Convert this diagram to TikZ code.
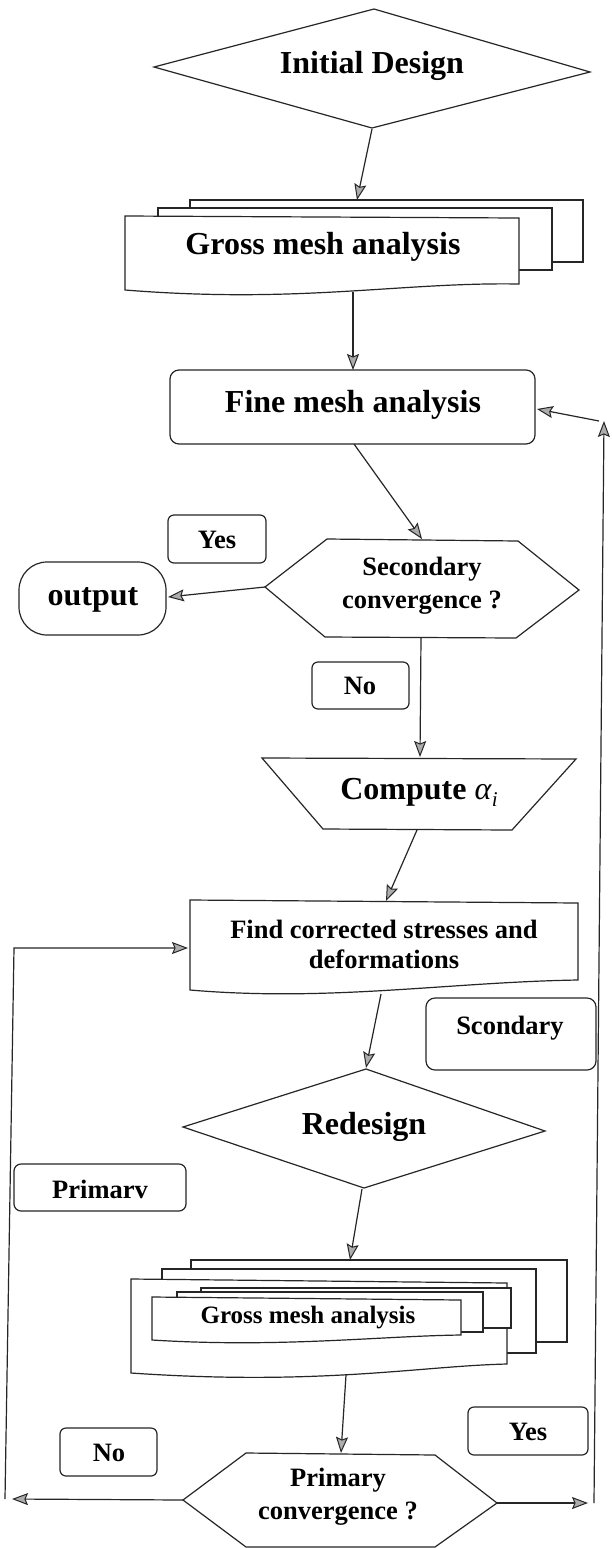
\documentclass[tikz,border=0pt]{standalone}
\usepackage{fontspec}
\setmainfont{Liberation Serif}
\usetikzlibrary{arrows.meta}
\tikzset{
  ln/.style={draw=black!85, line width=1.2pt},
  arr/.style={ln, -{Stealth[length=16pt,width=12pt,inset=2.5pt,fill=gray!65,line width=1pt]}},
  shp/.style={ln, fill=white, line join=miter},
  big/.style={font=\fontsize{32}{34}\selectfont\bfseries, align=center, inner sep=0pt},
  mid/.style={font=\fontsize{26.5}{33}\selectfont\bfseries, align=center, inner sep=0pt},
  sml/.style={font=\fontsize{25}{30}\selectfont\bfseries, align=center, inner sep=0pt},
}
\begin{document}
\begin{tikzpicture}[x=1pt,y=-1pt]
\useasboundingbox (0,0) rectangle (611,1548);
\fill[white] (0,0) rectangle (611,1548);

% ---------- Initial Design ----------
\draw[shp] (154,67) -- (374,9) -- (590,72) -- (372,128) -- cycle;
\node[big] (init) at (372,66) {Initial Design};
\coordinate (init-s) at (372,129);

% ---------- Gross mesh analysis (top) ----------
\draw[shp] (190,200) rectangle (583,262);
\draw[shp] (158,208) rectangle (552,270);
\draw[shp] (125,216) -- (519,218) -- (519,284)
   .. controls (400,282) and (300,304) .. (125,290) -- cycle;
\node[big] (gross1) at (323,247) {Gross mesh analysis};
\coordinate (gross1-n) at (357,200);
\coordinate (gross1-s) at (353,292);

% ---------- Fine mesh analysis ----------
\draw[shp, rounded corners=9pt] (170,370) rectangle (535,444);
\node[big] (fine) at (353,405) {Fine mesh analysis};
\coordinate (fine-n) at (353,370);
\coordinate (fine-s) at (354,444);
\coordinate (fine-e) at (537,409);

% ---------- Secondary convergence ----------
\draw[shp] (265,587) -- (327,539) -- (518,541) -- (579,590) -- (516,638) -- (325,637) -- cycle;
\node[mid] (sec) at (422,586) {Secondary\\convergence ?};
\coordinate (sec-n) at (422,539);
\coordinate (sec-w) at (265,587);
\coordinate (sec-s) at (421,638);

\draw[shp, rounded corners=6pt] (168,515) rectangle (266,563);
\node[mid] (yes1) at (217,540) {Yes};

\draw[shp, rounded corners=28pt] (19,562) rectangle (166,635);
\node[big] (out) at (93,600) {output};
\coordinate (out-e) at (168,597);

\draw[shp, rounded corners=6pt] (312,662) rectangle (409,709);
\node[mid] (no1) at (360,686) {No};

% ---------- Compute alpha ----------
\draw[shp] (262,758) -- (576,759) -- (512,830) -- (323,829) -- cycle;
\node[big] (comp) at (419,792) {Compute \textmd{\textit{α}\raisebox{-0.22em}{\fontsize{21}{21}\selectfont\textit{i}}}};
\coordinate (comp-n) at (420,757);
\coordinate (comp-s) at (417,830);

% ---------- Find corrected ----------
\draw[shp] (190,900) -- (578,903) -- (578,980)
   .. controls (450,982) and (330,1002) .. (190,990) -- cycle;
\node[mid, font=\fontsize{26.5}{30}\selectfont\bfseries] (find) at (384,944) {Find corrected stresses and\\deformations};
\coordinate (find-n) at (386,901);
\coordinate (find-w) at (188,948);
\coordinate (find-s) at (381,994);

\draw[shp, rounded corners=9pt] (426,998) rectangle (596,1070);
\node[mid] (scon) at (510,1028) {Scondary};

% ---------- Redesign ----------
\draw[shp] (366,1069) -- (545,1131) -- (364,1188) -- (183,1127) -- cycle;
\node[big] (red) at (364,1127) {Redesign};
\coordinate (red-n) at (366,1068);
\coordinate (red-s) at (362,1189);

\draw[shp, rounded corners=7pt] (14,1164) rectangle (186,1211);
\node[mid] (prim) at (100,1189) {Primarv};

% ---------- Gross mesh analysis (bottom stack) ----------
\draw[shp] (191,1260) rectangle (567,1342);
\draw[shp] (162,1269) rectangle (536,1353);
\draw[shp] (131,1279) -- (507,1283) -- (507,1364)
   .. controls (420,1366) and (320,1386) .. (131,1373) -- cycle;
\draw[shp] (201,1288) rectangle (511,1328);
\draw[shp] (177,1292) rectangle (483,1332);
\draw[shp] (152,1297) -- (461,1300) -- (461,1335)
   .. controls (380,1336) and (280,1348) .. (152,1340) -- cycle;
\node[sml] (gross2) at (308,1318) {Gross mesh analysis};
\coordinate (gross2-n) at (350,1260);
\coordinate (gross2-s) at (346,1375);

% ---------- Primary convergence ----------
\draw[shp] (183,1500) -- (246,1453) -- (435,1455) -- (497,1503) -- (435,1547) -- (246,1547) -- cycle;
\node[mid] (pc) at (338,1497) {Primary\\convergence ?};
\coordinate (pc-n) at (341,1453);
\coordinate (pc-w) at (183,1500);
\coordinate (pc-e) at (497,1503);

\draw[shp, rounded corners=6pt] (60,1428) rectangle (157,1476);
\node[mid] (no2) at (109,1453) {No};
\draw[shp, rounded corners=6pt] (468,1407) rectangle (588,1455);
\node[mid] (yes2) at (528,1432) {Yes};

% ---------- loop coordinates ----------
\coordinate (lbot) at (5,1499);
\coordinate (ltop) at (14,948);
\coordinate (lend) at (12,1499);
\coordinate (rbot) at (594,1503);
\coordinate (rtop) at (604,421);
\coordinate (rstart) at (599,421);
\coordinate (rend) at (588,1503);

% ---------- connectors ----------
\draw[arr] (init-s) -- (gross1-n);
\draw[arr] (gross1-s) -- (fine-n);
\draw[arr] (fine-s) -- (sec-n);
\draw[arr] (sec-w) -- (out-e);
\draw[arr] (sec-s) -- (comp-n);
\draw[arr] (comp-s) -- (find-n);
\draw[arr] (find-s) -- (red-n);
\draw[arr] (red-s) -- (gross2-n);
\draw[arr] (gross2-s) -- (pc-n);
\draw[arr] (pc-w) -- (lend);
\draw[arr] (lbot) -- (ltop) -- (find-w);
\draw[arr] (pc-e) -- (rend);
\draw[arr] (rbot) -- (rtop);
\draw[arr] (rstart) -- (fine-e);
\end{tikzpicture}
\end{document}
